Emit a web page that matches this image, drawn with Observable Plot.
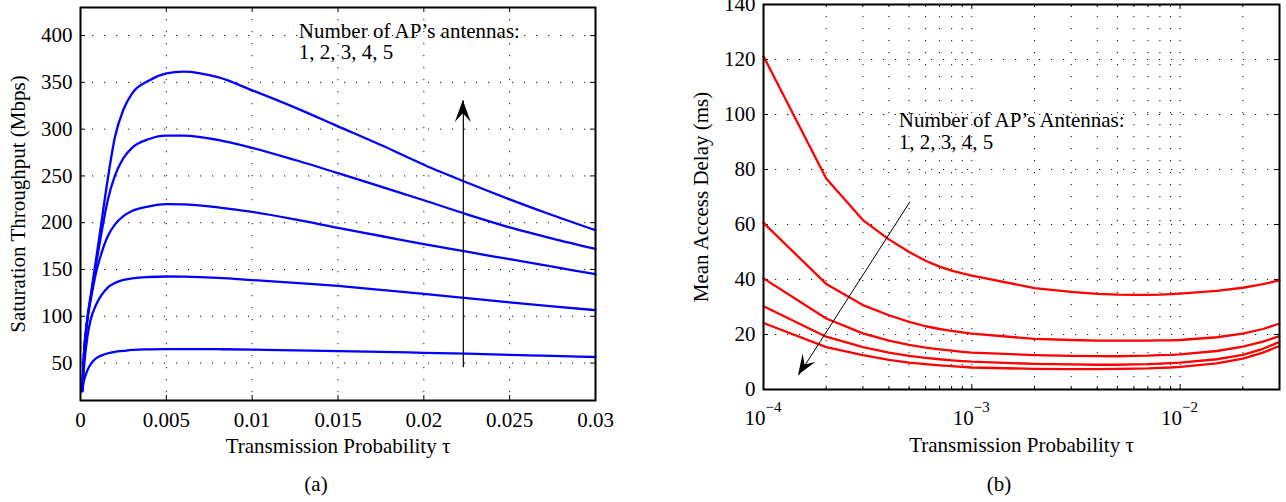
<!DOCTYPE html>
<html><head><meta charset="utf-8">
<script src="https://cdn.jsdelivr.net/npm/d3@7"></script>
<script src="https://cdn.jsdelivr.net/npm/@observablehq/plot@0.6"></script>
<style>
body{margin:0;background:#fff;font-family:"Liberation Serif","Times New Roman",serif;color:#000;}
#wrap{position:relative;width:1286px;height:502px;overflow:hidden;background:#fff;}
#a{position:absolute;left:0;top:0;}
#b{position:absolute;left:643px;top:0;}
.cap{position:absolute;width:100px;text-align:center;font-size:21px;line-height:21px;top:474px;}
</style></head><body>
<div id="wrap"><div id="a"></div><div id="b"></div>
<div class="cap" style="left:266px">(a)</div>
<div class="cap" style="left:949px">(b)</div></div>
<script>
// ---------- Panel (a): saturation throughput ----------
const tauA = [0.0001, 0.0002, 0.0004, 0.0006, 0.0009, 0.0012, 0.0016, 0.002, 0.0025, 0.003, 0.004, 0.005, 0.006, 0.008, 0.01, 0.0125, 0.015, 0.0175, 0.02, 0.0225, 0.025, 0.0275, 0.03];
const thr1 = [20, 31, 42, 49, 55, 58, 60.5, 62, 63, 64, 64.7, 65, 65, 64.8, 64.3, 63.6, 62.8, 61.9, 61, 60, 58.8, 57.6, 56.5];
const thr2 = [20, 45, 78, 97, 112, 122, 131, 135.5, 138.8, 140.5, 142, 142.5, 142.3, 141, 138.7, 135.7, 132.4, 128.3, 124, 119.4, 114.8, 110.5, 106.6];
const thr3 = [20, 58, 96, 118, 146, 166, 186, 198, 207, 212.5, 217.5, 219.8, 219.6, 216.5, 211.6, 203.5, 194.5, 185.8, 177, 169, 161, 153, 145];
const thr4 = [20, 59, 97, 121, 155, 187, 225, 250, 269, 280, 289.5, 293, 293, 288.5, 280, 267, 253, 238.5, 224, 209, 195, 183, 172];
const thr5 = [20, 60, 98, 123, 160, 198, 248, 291, 321, 338, 352, 359.5, 361.5, 355.5, 341.5, 323, 303, 283, 262, 243, 225, 208, 192];
const xTicksA = [0, 0.005, 0.01, 0.015, 0.02, 0.025, 0.03];
const yTicksA = [50, 100, 150, 200, 250, 300, 350, 400];
const arrowAx = [0.0223, 0.0223];
const arrowAy = [45.6, 330.6];
const noteA = "Number of AP’s antennas:\n1, 2, 3, 4, 5";
const noteAPos = [0.01272, 414];
const yLabelA = "Saturation Throughput (Mbps)";
const xLabelA = "Transmission Probability τ";

// ---------- Panel (b): mean access delay ----------
const tauB = [1e-4, 2e-4, 3e-4, 4e-4, 5e-4, 6e-4, 7e-4, 8e-4, 9e-4, 1e-3, 2e-3, 3e-3, 4e-3, 5e-3, 6e-3, 7e-3, 8e-3, 9e-3, 1e-2, 1.5e-2, 2e-2, 2.5e-2, 3e-2];
const del1 = [121.2, 76.7, 61.6, 54.6, 50.0, 46.8, 44.7, 43.2, 42.2, 41.4, 36.9, 35.5, 34.8, 34.5, 34.4, 34.4, 34.5, 34.7, 34.9, 35.9, 37.0, 38.3, 39.7];
const del2 = [60.6, 38.4, 30.7, 27.0, 24.6, 23.0, 22.0, 21.3, 20.8, 20.3, 18.4, 18.0, 17.8, 17.8, 17.8, 17.8, 17.9, 17.9, 18.0, 19.0, 20.3, 22.0, 24.0];
const del3 = [40.4, 25.8, 20.4, 17.8, 16.2, 15.2, 14.6, 14.1, 13.7, 13.4, 12.5, 12.2, 12.1, 12.1, 12.2, 12.3, 12.5, 12.6, 12.8, 14.0, 15.6, 17.4, 19.4];
const del4 = [30.3, 19.2, 15.4, 13.4, 12.2, 11.5, 11.0, 10.6, 10.3, 10.1, 9.3, 9.1, 9.0, 9.0, 9.1, 9.2, 9.4, 9.6, 9.8, 11.0, 12.6, 14.8, 17.3];
const del5 = [24.2, 15.4, 12.5, 10.8, 9.8, 9.2, 8.8, 8.5, 8.2, 8.0, 7.5, 7.4, 7.4, 7.5, 7.6, 7.7, 7.9, 8.0, 8.2, 9.5, 11.2, 13.4, 15.8];
const xMajorB = [1e-4, 1e-3, 1e-2];
const xExpB = ["−4", "−3", "−2"];
const xMinorB = [2e-4, 3e-4, 4e-4, 5e-4, 6e-4, 7e-4, 8e-4, 9e-4, 2e-3, 3e-3, 4e-3, 5e-3, 6e-3, 7e-3, 8e-3, 9e-3, 2e-2, 3e-2];
const yTicksB = [0, 20, 40, 60, 80, 100, 120, 140];
const arrowBx = [5.04e-4, 1.474e-4];
const arrowBy = [68.2, 5.2];
const noteB = "Number of AP’s Antennas:\n1, 2, 3, 4, 5";
const noteBPos = [4.465e-4, 101];
const yLabelB = "Mean Access Delay (ms)";
const xLabelB = "Transmission Probability τ";

// ---------- helpers ----------
const FONT = "Liberation Serif, Times New Roman, serif";
const DOTS = "1.2,10.8";

function toRows(xs, series) {
  return series.flatMap((s, i) => s.map((v, j) => ({tau: xs[j], v, n: i + 1})));
}

function arrowHead(xs, ys, len, half, notch) {
  return (index, scales) => {
    const x1 = scales.x(xs[0]), y1 = scales.y(ys[0]);
    const x2 = scales.x(xs[1]), y2 = scales.y(ys[1]);
    const dx = x2 - x1, dy = y2 - y1, d = Math.hypot(dx, dy);
    const ux = dx / d, uy = dy / d, px = -uy, py = ux;
    const bx = x2 - ux * len, by = y2 - uy * len;
    const nx = x2 - ux * len * notch, ny = y2 - uy * len * notch;
    const p = `M${x2},${y2}L${bx + px * half},${by + py * half}L${nx},${ny}L${bx - px * half},${by - py * half}Z`;
    return d3.create("svg:path").attr("d", p).attr("fill", "black").node();
  };
}

// ---------- Panel (a) ----------
{
  const W = 643, H = 468, mL = 80, mT = 7, mR = 48, mB = 68;
  const pw = W - mL - mR, ph = H - mT - mB;
  const rows = toRows(tauA, [thr1, thr2, thr3, thr4, thr5]);
  const inner = xTicksA.slice(1, -1);
  const chart = Plot.plot({
    width: W, height: H, marginLeft: mL, marginTop: mT, marginRight: mR, marginBottom: mB,
    style: {fontFamily: FONT, fontSize: "21px", background: "white", color: "black", overflow: "visible"},
    x: {type: "linear", domain: [0, 0.03], axis: null},
    y: {type: "linear", domain: [10, 430], axis: null},
    marks: [
      Plot.ruleX(inner, {x: d => d, stroke: "#111", strokeWidth: 1, strokeDasharray: DOTS}),
      Plot.ruleY(yTicksA, {y: d => d, stroke: "#111", strokeWidth: 1, strokeDasharray: DOTS}),
      Plot.ruleX(xTicksA, {x: d => d, insetTop: ph - 5, stroke: "black", strokeWidth: 1}),
      Plot.ruleX(xTicksA, {x: d => d, insetBottom: ph - 5, stroke: "black", strokeWidth: 1}),
      Plot.ruleY(yTicksA, {y: d => d, insetRight: pw - 5, stroke: "black", strokeWidth: 1}),
      Plot.ruleY(yTicksA, {y: d => d, insetLeft: pw - 5, stroke: "black", strokeWidth: 1}),
      Plot.line(rows, {x: "tau", y: "v", z: "n", stroke: "#0000ff", strokeWidth: 2.3, curve: "monotone-x"}),
      Plot.link([{x1: arrowAx[0], y1: arrowAy[0], x2: arrowAx[1], y2: arrowAy[1]}], {x1: "x1", y1: "y1", x2: "x2", y2: "y2", stroke: "black", strokeWidth: 1.2}),
      arrowHead(arrowAx, arrowAy, 22, 8, 0.6),
      Plot.text([noteA], {x: () => noteAPos[0], y: () => noteAPos[1], text: d => d, textAnchor: "start", lineAnchor: "top", lineHeight: 1.03}),
      Plot.axisX({ticks: xTicksA, tickSize: 0, tickPadding: 12, tickFormat: d => String(d), label: null}),
      Plot.axisY({ticks: yTicksA, tickSize: 0, tickPadding: 8, tickFormat: d => String(d), label: null}),
      Plot.text([xLabelA], {frameAnchor: "bottom", text: d => d, textAnchor: "middle", lineAnchor: "top", dy: 38}),
      Plot.text([yLabelA], {frameAnchor: "left", text: d => d, rotate: -90, textAnchor: "middle", lineAnchor: "middle", dx: -62}),
      Plot.frame({stroke: "black", strokeWidth: 2})
    ]
  });
  document.getElementById("a").appendChild(chart);
}

// ---------- Panel (b) ----------
{
  const W = 643, H = 468, mL = 120, mT = 4, mR = 7, mB = 79;
  const pw = W - mL - mR, ph = H - mT - mB;
  const rows = toRows(tauB, [del1, del2, del3, del4, del5]);
  const chart = Plot.plot({
    width: W, height: H, marginLeft: mL, marginTop: mT, marginRight: mR, marginBottom: mB,
    style: {fontFamily: FONT, fontSize: "21px", background: "white", color: "black", overflow: "visible"},
    x: {type: "log", domain: [1e-4, 0.03], axis: null},
    y: {type: "linear", domain: [0, 140], axis: null},
    marks: [
      Plot.ruleX(xMajorB.slice(1).concat(xMinorB.slice(0, -1)), {x: d => d, stroke: "#111", strokeWidth: 1, strokeDasharray: DOTS}),
      Plot.ruleY(yTicksB.slice(1, -1), {y: d => d, stroke: "#111", strokeWidth: 1, strokeDasharray: DOTS}),
      Plot.ruleX(xMajorB, {x: d => d, insetTop: ph - 5, stroke: "black", strokeWidth: 1}),
      Plot.ruleX(xMajorB, {x: d => d, insetBottom: ph - 5, stroke: "black", strokeWidth: 1}),
      Plot.ruleX(xMinorB, {x: d => d, insetTop: ph - 3, stroke: "black", strokeWidth: 1}),
      Plot.ruleX(xMinorB, {x: d => d, insetBottom: ph - 3, stroke: "black", strokeWidth: 1}),
      Plot.ruleY(yTicksB, {y: d => d, insetRight: pw - 5, stroke: "black", strokeWidth: 1}),
      Plot.ruleY(yTicksB, {y: d => d, insetLeft: pw - 5, stroke: "black", strokeWidth: 1}),
      Plot.line(rows, {x: "tau", y: "v", z: "n", stroke: "#ff0000", strokeWidth: 2.3, curve: "linear"}),
      Plot.link([{x1: arrowBx[0], y1: arrowBy[0], x2: arrowBx[1], y2: arrowBy[1]}], {x1: "x1", y1: "y1", x2: "x2", y2: "y2", stroke: "black", strokeWidth: 1}),
      arrowHead(arrowBx, arrowBy, 20, 7.5, 0.6),
      Plot.text([noteB], {x: () => noteBPos[0], y: () => noteBPos[1], text: d => d, textAnchor: "start", lineAnchor: "top", lineHeight: 1.03}),
      Plot.text(xMajorB, {x: d => d, frameAnchor: "bottom", text: () => "10", textAnchor: "end", lineAnchor: "top", dx: 2, dy: 21}),
      Plot.text(xMajorB, {x: d => d, frameAnchor: "bottom", text: (d, i) => xExpB[i], textAnchor: "start", lineAnchor: "top", dx: 2, dy: 11.5, fontSize: 15}),
      Plot.axisY({ticks: yTicksB, tickSize: 0, tickPadding: 8, tickFormat: d => String(d), label: null}),
      Plot.text([xLabelB], {frameAnchor: "bottom", text: d => d, textAnchor: "middle", lineAnchor: "top", dy: 47.5}),
      Plot.text([yLabelB], {frameAnchor: "left", text: d => d, rotate: -90, textAnchor: "middle", lineAnchor: "middle", dx: -62}),
      Plot.frame({stroke: "black", strokeWidth: 2})
    ]
  });
  document.getElementById("b").appendChild(chart);
}
</script>
</body></html>
